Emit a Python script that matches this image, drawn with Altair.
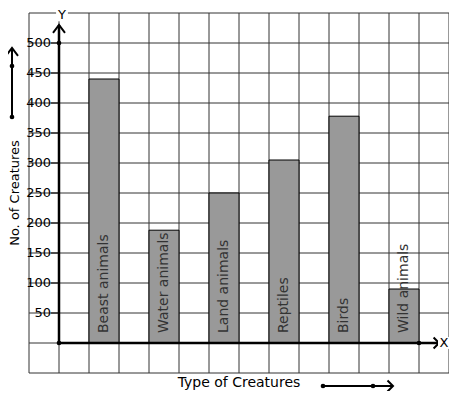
import altair as alt
import pandas as pd

categories = ["Beast animals", "Water animals", "Land animals", "Reptiles", "Birds", "Wild animals"]
counts = [440, 188, 250, 305, 378, 90]
y_ticks = [50, 100, 150, 200, 250, 300, 350, 400, 450, 500]
grid_x = list(range(-1, 14))
grid_y = list(range(-50, 551, 50))
x_title = "Type of Creatures"
y_title = "No. of Creatures"

FONT = "DejaVu Sans"
W, H = 420, 360

df = pd.DataFrame({"cat": categories, "n": counts})
df["x0"] = [2 * i + 1 for i in range(len(df))]
df["x1"] = df["x0"] + 1
df["xm"] = df["x0"] + 0.5
df["y0"] = 0

ticks_df = pd.DataFrame({"v": y_ticks})
one = pd.DataFrame({"a": [0]})

xs = alt.Scale(domain=[-1, 13], nice=False, zero=False)
ys = alt.Scale(domain=[-50, 550], nice=False, zero=False)


def X(f):
    return alt.X(f, scale=xs, axis=None)


def Y(f):
    return alt.Y(f, scale=ys, axis=None)


vgrid = alt.Chart(pd.DataFrame({"g": grid_x})).mark_rule(color="#333333", strokeWidth=1).encode(
    x=X("g:Q"), y=alt.value(0), y2=alt.value(H))
hgrid = alt.Chart(pd.DataFrame({"g": grid_y})).mark_rule(color="#333333", strokeWidth=1).encode(
    y=Y("g:Q"), x=alt.value(0), x2=alt.value(W))

bars = alt.Chart(df).mark_bar(color="#999999", stroke="black", strokeWidth=1).encode(
    x=X("x0:Q"), x2="x1", y=Y("n:Q"), y2="y0")

bar_text = alt.Chart(df).mark_text(angle=270, align="left", baseline="middle", dx=10,
                                   font=FONT, fontSize=14, color="#333333").encode(
    x=X("xm:Q"), y=Y("y0:Q"), text="cat:N")

tick_text = alt.Chart(ticks_df).mark_text(align="right", baseline="middle", font=FONT,
                                          fontSize=13, color="black").encode(
    x=alt.value(22), y=Y("v:Q"), text="v:Q")
tick_rule = alt.Chart(ticks_df).mark_rule(color="black", strokeWidth=1).encode(
    x=alt.value(22), x2=alt.value(30), y=Y("v:Q"))

axes_df = pd.DataFrame({"x": [0, 0], "y": [0, 0], "x2": [12.67, 0], "y2": [0, 530]})
axis_lines = alt.Chart(axes_df).mark_rule(color="black", strokeWidth=2.5).encode(
    x=X("x:Q"), x2="x2", y=Y("y:Q"), y2="y2")

dots_df = pd.DataFrame({"x": [0, 0, 12], "y": [0, 500, 0]})
dots = alt.Chart(dots_df).mark_circle(color="black", size=22, opacity=1).encode(
    x=X("x:Q"), y=Y("y:Q"))

up_path = "M-1,1.3L0,0L1,1.3"
right_path = "M-1,-1L0,0L-1,1"
head_up = alt.Chart(pd.DataFrame({"x": [0], "y": [530]})).mark_point(
    shape=up_path, size=144, filled=False, color="black", strokeWidth=2, opacity=1).encode(
    x=X("x:Q"), y=Y("y:Q"))
head_right = alt.Chart(pd.DataFrame({"x": [12.67], "y": [0]})).mark_point(
    shape=right_path, size=121, filled=False, color="black", strokeWidth=2, opacity=1).encode(
    x=X("x:Q"), y=Y("y:Q"))

lab_df = pd.DataFrame({"x": [0.1, 12.83], "y": [546, 0], "t": ["Y", "X"]})
lab_bg = alt.Chart(lab_df).mark_point(shape="square", size=140, filled=True, color="white", opacity=1).encode(
    x=X("x:Q"), y=Y("y:Q"))
labs = alt.Chart(lab_df).mark_text(font=FONT, fontSize=13, color="black", align="center",
                                   baseline="middle").encode(
    x=X("x:Q"), y=Y("y:Q"), text="t:N")

# axis titles
xt = alt.Chart(one).mark_text(font=FONT, fontSize=14, color="black", align="center",
                              baseline="middle").encode(
    x=alt.value(W / 2), y=alt.value(370), text=alt.value(x_title))
yt = alt.Chart(one).mark_text(font=FONT, fontSize=13, color="black", align="center",
                              baseline="middle", angle=270).encode(
    x=alt.value(-14), y=alt.value(180), text=alt.value(y_title))

# decorative arrows next to the axis titles (pixel positions)
deco = [
    alt.Chart(one).mark_rule(color="black", strokeWidth=2).encode(
        x=alt.value(-17), y=alt.value(35), y2=alt.value(104)),
    alt.Chart(one).mark_point(shape=up_path, size=144, filled=False, color="black",
                              strokeWidth=2, opacity=1).encode(x=alt.value(-17), y=alt.value(35)),
    alt.Chart(one).mark_rule(color="black", strokeWidth=2).encode(
        x=alt.value(294), x2=alt.value(364), y=alt.value(373)),
    alt.Chart(one).mark_point(shape=right_path, size=121, filled=False, color="black",
                              strokeWidth=2, opacity=1).encode(x=alt.value(364), y=alt.value(373)),
]
for px, py in [(-17, 53), (-17, 104), (294, 373), (344, 373)]:
    deco.append(alt.Chart(one).mark_circle(color="black", size=22, opacity=1).encode(
        x=alt.value(px), y=alt.value(py)))

chart = alt.layer(
    vgrid, hgrid, bars, bar_text, tick_rule, tick_text, axis_lines, head_up, head_right, dots,
    lab_bg, labs, xt, yt, *deco
).properties(
    width=W, height=H,
    autosize=alt.AutoSizeParams(type="none"),
    padding={"left": 21, "top": 5, "right": 0, "bottom": 18},
    background="white",
).configure_view(strokeWidth=0)

chart.save("out.html", embed_options={"renderer": "svg", "actions": False})
